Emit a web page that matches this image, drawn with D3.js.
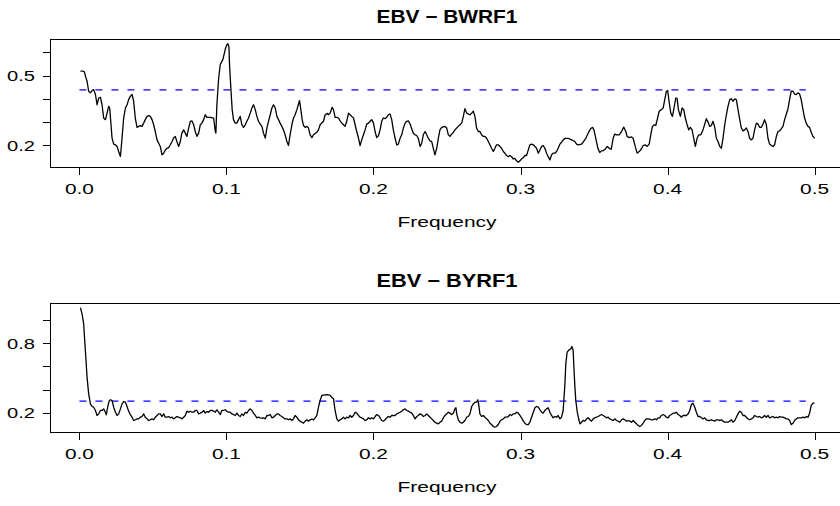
<!DOCTYPE html>
<html><head><meta charset="utf-8">
<script src="https://cdn.jsdelivr.net/npm/d3@7"></script>
<style>body{margin:0;background:#fff}svg{display:block}</style>
</head><body>
<script>
// ---------------- DATA ----------------
const titles = ["EBV \u2212 BWRF1", "EBV \u2212 BYRF1"];
const xLabel = "Frequency";
const xLimits = [0, 0.5];
const xTicks = [0, 0.1, 0.2, 0.3, 0.4, 0.5];
const xTickLabels = ["0.0", "0.1", "0.2", "0.3", "0.4", "0.5"];

const topYTicks = [0.2, 0.3, 0.4, 0.5, 0.6];
const topYTickLabels = ["0.2", "", "", "0.5", ""];
const bottomYTicks = [0.2, 0.4, 0.6, 0.8, 1.0];
const bottomYTickLabels = ["0.2", "", "", "0.8", ""];

const thresholdTop = 0.439;
const thresholdBottom = 0.300;
const thresholdSpan = [0, 0.494];

const freqTop = [0.0007,0.0025,0.0034,0.0041,0.0052,0.0063,0.0075,0.0086,0.0097,0.0109,0.0120,0.0131,0.0143,0.0154,0.0165,0.0177,0.0188,0.0199,0.0206,0.0215,0.0222,0.0233,0.0245,0.0256,0.0267,0.0279,0.0290,0.0301,0.0313,0.0324,0.0335,0.0346,0.0358,0.0369,0.0380,0.0392,0.0403,0.0414,0.0426,0.0437,0.0448,0.0460,0.0471,0.0482,0.0494,0.0505,0.0516,0.0528,0.0539,0.0550,0.0562,0.0573,0.0584,0.0596,0.0607,0.0618,0.0630,0.0641,0.0652,0.0663,0.0675,0.0686,0.0697,0.0709,0.0720,0.0731,0.0743,0.0754,0.0765,0.0777,0.0788,0.0799,0.0811,0.0822,0.0833,0.0845,0.0856,0.0867,0.0890,0.0913,0.0924,0.0928,0.0935,0.0947,0.0958,0.0976,0.0992,0.1003,0.1010,0.1017,0.1021,0.1030,0.1039,0.1048,0.1060,0.1071,0.1082,0.1094,0.1105,0.1116,0.1128,0.1139,0.1150,0.1162,0.1173,0.1184,0.1196,0.1207,0.1218,0.1230,0.1241,0.1252,0.1264,0.1275,0.1286,0.1298,0.1309,0.1320,0.1332,0.1343,0.1354,0.1365,0.1377,0.1388,0.1399,0.1411,0.1422,0.1433,0.1445,0.1456,0.1467,0.1479,0.1497,0.1506,0.1515,0.1524,0.1535,0.1547,0.1558,0.1569,0.1581,0.1592,0.1615,0.1626,0.1637,0.1660,0.1671,0.1687,
0.1694,0.1705,0.1719,0.1728,0.1739,0.1751,0.1762,0.1773,0.1785,0.1796,0.1807,0.1818,0.1830,0.1841,0.1852,0.1864,0.1875,0.1886,0.1898,0.1909,0.1920,0.1932,0.1943,0.1954,0.1966,0.1977,0.1988,0.2000,0.2011,0.2022,0.2034,0.2045,0.2056,0.2067,0.2079,0.2090,0.2101,0.2113,0.2124,0.2135,0.2147,0.2158,0.2169,0.2181,0.2192,0.2203,0.2215,0.2226,0.2237,0.2249,0.2260,0.2271,0.2283,0.2294,0.2305,0.2317,0.2328,0.2339,0.2351,0.2362,0.2373,0.2385,0.2396,0.2407,0.2418,0.2430,0.2441,0.2452,0.2464,0.2486,0.2498,0.2509,0.2520,0.2532,0.2543,0.2554,0.2566,0.2577,0.2588,0.2600,0.2611,0.2622,0.2634,0.2645,0.2656,0.2668,0.2679,0.2690,0.2701,0.2713,0.2724,0.2735,0.2747,0.2758,0.2769,0.2781,0.2792,0.2803,0.2815,0.2826,0.2837,0.2849,0.2860,0.2871,0.2883,0.2894,0.2905,0.2917,0.2928,0.2939,0.2951,0.2962,0.2973,0.2985,0.2996,0.3007,0.3019,0.3030,0.3041,0.3053,0.3064,0.3075,0.3087,0.3098,0.3109,0.3121,0.3132,0.3143,0.3154,0.3166,0.3177,0.3188,0.3200,0.3211,0.3222,0.3234,0.3245,0.3256,0.3268,0.3279,0.3290,0.3302,0.3324,0.3347,0.3370,0.3381,0.3392,
0.3415,0.3426,0.3444,0.3460,0.3476,0.3490,0.3499,0.3512,0.3526,0.3539,0.3550,0.3562,0.3576,0.3590,0.3603,0.3617,0.3630,0.3641,0.3653,0.3671,0.3687,0.3702,0.3716,0.3725,0.3739,0.3755,0.3766,0.3780,0.3793,0.3807,0.3821,0.3834,0.3848,0.3861,0.3875,0.3886,0.3897,0.3911,0.3920,0.3931,0.3943,0.3958,0.3970,0.3981,0.3992,0.4001,0.4010,0.4022,0.4033,0.4044,0.4056,0.4065,0.4074,0.4087,0.4099,0.4110,0.4121,0.4133,0.4144,0.4155,0.4167,0.4178,0.4189,0.4201,0.4212,0.4226,0.4241,0.4253,0.4264,0.4275,0.4287,0.4298,0.4309,0.4321,0.4332,0.4343,0.4355,0.4366,0.4377,0.4389,0.4400,0.4411,0.4423,0.4434,0.4445,0.4457,0.4468,0.4479,0.4491,0.4502,0.4513,0.4524,0.4536,0.4547,0.4558,0.4570,0.4581,0.4592,0.4604,0.4615,0.4626,0.4638,0.4649,0.4660,0.4672,0.4683,0.4694,0.4706,0.4717,0.4728,0.4740,0.4751,0.4762,0.4774,0.4785,0.4796,0.4808,0.4819,0.4830,0.4841,0.4853,0.4864,0.4875,0.4887,0.4898,0.4909,0.4921,0.4932,0.4943,0.4955,0.4966,0.4977,0.4989,0.5000];

const specTop = [0.519,0.519,0.516,0.498,0.476,0.433,0.426,0.436,0.440,0.419,0.375,0.404,0.407,0.375,0.318,0.311,0.339,0.368,0.361,0.289,0.232,0.206,0.203,0.196,0.174,0.153,0.232,0.318,0.361,0.375,0.397,0.411,0.419,0.390,0.318,0.278,0.282,0.285,0.282,0.296,0.311,0.325,0.329,0.325,0.311,0.289,0.260,0.224,0.210,0.196,0.160,0.167,0.181,0.188,0.191,0.203,0.217,0.232,0.239,0.217,0.196,0.217,0.253,0.267,0.253,0.239,0.275,0.304,0.306,0.289,0.260,0.239,0.253,0.289,0.296,0.311,0.332,0.321,0.321,0.318,0.260,0.253,0.375,0.490,0.548,0.570,0.613,0.634,0.637,0.623,0.548,0.447,0.354,0.311,0.296,0.296,0.311,0.325,0.289,0.278,0.289,0.304,0.318,0.339,0.361,0.375,0.354,0.325,0.304,0.292,0.282,0.253,0.232,0.275,0.304,0.332,0.361,0.375,0.361,0.325,0.311,0.296,0.282,0.267,0.246,0.217,0.200,0.246,0.289,0.318,0.332,0.354,0.393,0.354,0.311,0.286,0.278,0.282,0.275,0.246,0.234,0.246,0.257,0.267,0.289,0.304,0.332,0.338,
0.332,0.339,0.364,0.354,0.321,0.321,0.318,0.306,0.296,0.289,0.282,0.304,0.339,0.332,0.325,0.318,0.289,0.260,0.232,0.200,0.224,0.246,0.267,0.292,0.296,0.304,0.311,0.296,0.260,0.234,0.243,0.267,0.304,0.318,0.315,0.321,0.332,0.335,0.311,0.267,0.231,0.203,0.206,0.231,0.246,0.275,0.296,0.304,0.306,0.292,0.272,0.253,0.246,0.243,0.231,0.196,0.210,0.246,0.260,0.246,0.231,0.220,0.217,0.188,0.160,0.188,0.231,0.267,0.278,0.282,0.275,0.246,0.239,0.249,0.256,0.267,0.275,0.282,0.289,0.296,0.325,0.358,0.339,0.335,0.332,0.339,0.347,0.325,0.275,0.260,0.260,0.246,0.239,0.239,0.231,0.217,0.203,0.188,0.174,0.188,0.203,0.203,0.196,0.188,0.174,0.167,0.157,0.152,0.157,0.152,0.142,0.145,0.134,0.128,0.134,0.142,0.148,0.157,0.157,0.181,0.203,0.206,0.203,0.196,0.188,0.167,0.181,0.196,0.200,0.188,0.167,0.152,0.138,0.160,0.167,0.167,0.174,0.188,0.206,0.214,0.224,0.231,0.231,0.224,0.217,0.206,0.203,
0.206,0.214,0.231,0.253,0.272,0.278,0.267,0.231,0.188,0.170,0.177,0.178,0.184,0.196,0.188,0.184,0.231,0.249,0.246,0.246,0.260,0.279,0.260,0.239,0.234,0.237,0.231,0.196,0.167,0.174,0.185,0.200,0.203,0.196,0.206,0.246,0.282,0.289,0.286,0.314,0.347,0.354,0.361,0.397,0.433,0.436,0.390,0.339,0.325,0.361,0.404,0.401,0.354,0.325,0.361,0.354,0.318,0.289,0.267,0.278,0.267,0.231,0.196,0.231,0.246,0.246,0.267,0.292,0.315,0.301,0.282,0.286,0.304,0.278,0.231,0.217,0.196,0.188,0.231,0.289,0.332,0.368,0.397,0.401,0.390,0.400,0.397,0.354,0.311,0.275,0.263,0.267,0.275,0.260,0.231,0.224,0.231,0.267,0.296,0.292,0.278,0.278,0.292,0.311,0.289,0.231,0.206,0.200,0.196,0.203,0.239,0.260,0.263,0.272,0.282,0.311,0.335,0.358,0.397,0.433,0.433,0.421,0.419,0.426,0.421,0.397,0.354,0.318,0.296,0.282,0.278,0.257,0.239,0.231];

const freqBottom = [0.0007,0.0018,0.0029,0.0036,0.0045,0.0052,0.0063,0.0075,0.0086,0.0097,0.0109,0.0120,0.0131,0.0143,0.0154,0.0165,0.0177,0.0183,0.0192,0.0202,0.0211,0.0222,0.0233,0.0245,0.0256,0.0267,0.0279,0.0290,0.0301,0.0313,0.0324,0.0335,0.0346,0.0358,0.0369,0.0380,0.0392,0.0403,0.0414,0.0426,0.0437,0.0448,0.0460,0.0471,0.0482,0.0494,0.0505,0.0516,0.0528,0.0539,0.0550,0.0562,0.0573,0.0584,0.0596,0.0607,0.0618,0.0630,0.0641,0.0652,0.0663,0.0675,0.0686,0.0697,0.0709,0.0720,0.0731,0.0743,0.0754,0.0765,0.0777,0.0788,0.0799,0.0811,0.0822,0.0833,0.0845,0.0856,0.0867,0.0879,0.0890,0.0901,0.0913,0.0924,0.0935,0.0947,0.0958,0.0969,0.0981,0.0992,0.1003,0.1014,0.1026,0.1037,0.1048,0.1060,0.1071,0.1082,0.1094,0.1105,0.1116,0.1128,0.1139,0.1150,0.1162,0.1173,0.1184,0.1196,0.1207,0.1218,0.1230,0.1241,0.1252,0.1264,0.1275,0.1286,0.1298,0.1309,0.1320,0.1332,0.1343,0.1354,0.1365,0.1377,0.1388,0.1399,0.1411,0.1422,0.1433,0.1445,0.1456,0.1467,0.1479,0.1490,0.1501,0.1513,0.1524,0.1535,0.1547,0.1558,0.1569,0.1581,0.1592,0.1603,0.1615,0.1626,0.1637,0.1649,
0.1671,0.1683,0.1694,0.1705,0.1716,0.1728,0.1739,0.1751,0.1762,0.1773,0.1785,0.1796,0.1807,0.1818,0.1830,0.1841,0.1852,0.1864,0.1875,0.1886,0.1898,0.1909,0.1920,0.1932,0.1943,0.1954,0.1966,0.1977,0.1988,0.2000,0.2011,0.2022,0.2034,0.2045,0.2056,0.2067,0.2079,0.2090,0.2101,0.2113,0.2124,0.2135,0.2147,0.2158,0.2169,0.2181,0.2192,0.2203,0.2215,0.2226,0.2237,0.2249,0.2260,0.2271,0.2283,0.2294,0.2305,0.2317,0.2328,0.2339,0.2351,0.2362,0.2373,0.2385,0.2396,0.2407,0.2418,0.2430,0.2441,0.2452,0.2464,0.2475,0.2486,0.2498,0.2509,0.2520,0.2532,0.2543,0.2554,0.2561,0.2566,0.2577,0.2588,0.2600,0.2611,0.2622,0.2634,0.2645,0.2656,0.2668,0.2679,0.2690,0.2701,0.2710,0.2715,0.2724,0.2735,0.2747,0.2758,0.2769,0.2781,0.2792,0.2803,0.2815,0.2826,0.2837,0.2849,0.2860,0.2871,0.2883,0.2894,0.2905,0.2917,0.2928,0.2939,0.2951,0.2962,0.2973,0.2985,0.2996,0.3007,0.3019,0.3030,0.3041,0.3053,0.3064,0.3075,0.3087,0.3098,0.3109,0.3121,0.3132,0.3143,0.3154,0.3166,0.3177,0.3188,0.3200,0.3211,0.3222,0.3234,0.3245,0.3256,0.3268,0.3279,0.3290,0.3302,0.3308,0.3317,0.3331,0.3342,0.3349,0.3358,
0.3363,0.3370,0.3376,0.3386,0.3397,0.3404,0.3415,0.3426,0.3438,0.3449,0.3460,0.3472,0.3483,0.3494,0.3505,0.3517,0.3528,0.3539,0.3551,0.3562,0.3573,0.3585,0.3596,0.3607,0.3619,0.3630,0.3641,0.3653,0.3664,0.3675,0.3687,0.3698,0.3709,0.3721,0.3732,0.3743,0.3755,0.3766,0.3777,0.3789,0.3800,0.3811,0.3823,0.3834,0.3845,0.3857,0.3868,0.3879,0.3891,0.3902,0.3913,0.3925,0.3936,0.3947,0.3958,0.3970,0.3981,0.3992,0.4004,0.4015,0.4026,0.4038,0.4049,0.4060,0.4072,0.4083,0.4094,0.4106,0.4117,0.4128,0.4140,0.4151,0.4162,0.4173,0.4185,0.4196,0.4207,0.4219,0.4230,0.4241,0.4253,0.4264,0.4275,0.4287,0.4298,0.4309,0.4321,0.4332,0.4343,0.4355,0.4366,0.4377,0.4389,0.4400,0.4411,0.4423,0.4434,0.4445,0.4457,0.4468,0.4479,0.4491,0.4502,0.4513,0.4524,0.4536,0.4547,0.4558,0.4570,0.4581,0.4592,0.4604,0.4615,0.4626,0.4638,0.4649,0.4660,0.4672,0.4683,0.4694,0.4706,0.4717,0.4728,0.4740,0.4751,0.4762,0.4774,0.4785,0.4796,0.4808,0.4819,0.4830,0.4841,0.4853,0.4864,0.4875,0.4887,0.4898,0.4909,0.4921,0.4932,0.4943,0.4955,0.4966,0.4977,0.4989,0.5000];

const specBottom = [1.103,1.051,0.965,0.822,0.650,0.507,0.363,0.277,0.254,0.248,0.220,0.177,0.191,0.220,0.220,0.234,0.205,0.183,0.248,0.300,0.312,0.306,0.248,0.205,0.177,0.191,0.234,0.277,0.297,0.291,0.254,0.214,0.185,0.162,0.134,0.140,0.148,0.148,0.162,0.168,0.191,0.162,0.148,0.134,0.140,0.148,0.140,0.162,0.177,0.191,0.191,0.168,0.191,0.162,0.162,0.168,0.157,0.162,0.148,0.157,0.168,0.162,0.157,0.148,0.162,0.177,0.214,0.205,0.214,0.205,0.205,0.220,0.220,0.191,0.197,0.205,0.220,0.197,0.211,0.205,0.220,0.220,0.214,0.205,0.226,0.205,0.185,0.220,0.220,0.226,0.214,0.205,0.205,0.191,0.185,0.177,0.197,0.177,0.168,0.191,0.177,0.205,0.197,0.220,0.234,0.220,0.197,0.177,0.157,0.162,0.157,0.154,0.157,0.148,0.177,0.177,0.185,0.157,0.162,0.177,0.191,0.191,0.177,0.168,0.157,0.148,0.148,0.140,0.148,0.134,0.148,0.177,0.162,0.140,0.128,0.119,0.111,0.128,0.140,0.128,0.140,0.145,0.140,0.157,0.177,0.248,0.306,0.349,
0.355,0.357,0.355,0.349,0.334,0.320,0.220,0.148,0.128,0.140,0.148,0.162,0.148,0.162,0.157,0.177,0.162,0.177,0.205,0.197,0.177,0.162,0.157,0.148,0.134,0.140,0.157,0.148,0.157,0.148,0.168,0.185,0.177,0.157,0.134,0.128,0.140,0.157,0.168,0.162,0.177,0.177,0.177,0.191,0.197,0.205,0.214,0.226,0.234,0.220,0.214,0.205,0.197,0.177,0.148,0.168,0.177,0.191,0.185,0.168,0.177,0.191,0.177,0.162,0.148,0.134,0.119,0.111,0.105,0.119,0.128,0.157,0.177,0.191,0.205,0.197,0.185,0.197,0.234,0.243,0.191,0.140,0.119,0.111,0.119,0.134,0.162,0.168,0.191,0.254,0.277,0.291,0.291,0.312,0.277,0.191,0.168,0.177,0.162,0.148,0.134,0.111,0.099,0.082,0.076,0.082,0.099,0.128,0.140,0.148,0.162,0.162,0.168,0.185,0.177,0.191,0.191,0.205,0.197,0.177,0.157,0.128,0.111,0.099,0.099,0.119,0.162,0.205,0.243,0.254,0.248,0.226,0.205,0.197,0.220,0.234,0.243,0.205,0.177,0.157,0.168,0.162,0.177,0.148,0.162,0.220,0.449,0.621,0.722,0.742,0.750,0.770,0.736,
0.592,0.420,0.306,0.205,0.140,0.105,0.119,0.134,0.128,0.148,0.157,0.140,0.128,0.148,0.157,0.162,0.168,0.177,0.185,0.177,0.168,0.157,0.162,0.148,0.140,0.134,0.148,0.134,0.128,0.119,0.140,0.148,0.140,0.128,0.134,0.128,0.119,0.134,0.119,0.105,0.091,0.082,0.091,0.111,0.134,0.148,0.148,0.145,0.140,0.140,0.148,0.140,0.157,0.157,0.177,0.185,0.177,0.162,0.157,0.177,0.185,0.197,0.197,0.205,0.185,0.177,0.162,0.177,0.177,0.177,0.191,0.220,0.271,0.283,0.248,0.205,0.168,0.168,0.157,0.148,0.157,0.140,0.134,0.134,0.140,0.134,0.128,0.140,0.140,0.134,0.140,0.128,0.119,0.119,0.119,0.128,0.140,0.119,0.134,0.162,0.191,0.214,0.205,0.177,0.177,0.162,0.148,0.140,0.148,0.157,0.177,0.168,0.162,0.168,0.157,0.162,0.177,0.162,0.177,0.157,0.162,0.168,0.157,0.162,0.157,0.168,0.162,0.162,0.157,0.148,0.148,0.134,0.099,0.111,0.134,0.148,0.157,0.157,0.157,0.162,0.157,0.168,0.162,0.197,0.263,0.283,0.283];

// ---------------- LAYOUT ----------------
const W = 840, H = 506;
const FONT = "'Liberation Sans', Arial, Helvetica, sans-serif";
const plotLeft = 50, plotRight = 844;
const panelDefs = [
  {title: titles[0], freq: freqTop, spec: specTop, thresh: thresholdTop,
   yTicks: topYTicks, yTickLabels: topYTickLabels, top: 39, bottom: 167},
  {title: titles[1], freq: freqBottom, spec: specBottom, thresh: thresholdBottom,
   yTicks: bottomYTicks, yTickLabels: bottomYTickLabels, top: 303, bottom: 432}
];

function pad(ext) { const r = ext[1] - ext[0]; return [ext[0] - 0.04 * r, ext[1] + 0.04 * r]; }

const svg = d3.select("body").append("svg").attr("width", W).attr("height", H)
  .style("font-family", FONT);

const x = d3.scaleLinear().domain(pad(xLimits)).range([plotLeft, plotRight]);

panelDefs.forEach(p => {
  if (p.freq.length !== p.spec.length) throw new Error("length mismatch " + p.freq.length + " vs " + p.spec.length);
  const data = p.freq.map((f, i) => ({f, v: p.spec[i]}));
  const y = d3.scaleLinear().domain(pad(d3.extent(p.spec))).range([p.bottom, p.top]);
  const g = svg.append("g");

  // box
  g.append("rect").attr("x", plotLeft + 0.5).attr("y", p.top + 0.5)
    .attr("width", plotRight - plotLeft).attr("height", p.bottom - p.top)
    .attr("fill", "none").attr("stroke", "#000").attr("stroke-width", 1);

  // y axis
  const ya = g.append("g");
  p.yTicks.forEach((t, i) => {
    const yy = Math.round(y(t)) + 0.5;
    ya.append("line").attr("x1", plotLeft - 7).attr("x2", plotLeft).attr("y1", yy).attr("y2", yy)
      .attr("stroke", "#000");
    if (p.yTickLabels[i]) {
      ya.append("text").attr("x", 35).attr("y", y(t) + 5.5).attr("text-anchor", "end")
        .attr("font-size", 15).attr("textLength", 28).attr("lengthAdjust", "spacingAndGlyphs")
        .text(p.yTickLabels[i]);
    }
  });

  // x axis
  const xa = g.append("g");
  xTicks.forEach((t, i) => {
    const xx = Math.round(x(t)) + 0.5;
    xa.append("line").attr("x1", xx).attr("x2", xx).attr("y1", p.bottom).attr("y2", p.bottom + 8)
      .attr("stroke", "#000");
    xa.append("text").attr("x", x(t)).attr("y", p.bottom + 26.5).attr("text-anchor", "middle")
      .attr("font-size", 15).attr("textLength", 29).attr("lengthAdjust", "spacingAndGlyphs")
      .text(xTickLabels[i]);
  });
  g.append("text").attr("x", (plotLeft + plotRight) / 2).attr("y", p.bottom + 60)
    .attr("text-anchor", "middle").attr("font-size", 15)
    .attr("textLength", 99).attr("lengthAdjust", "spacingAndGlyphs").text(xLabel);

  // title
  g.append("text").attr("x", (plotLeft + plotRight) / 2).attr("y", p.top - 16.5)
    .attr("text-anchor", "middle").attr("font-size", 18).attr("font-weight", "bold")
    .attr("textLength", 141).attr("lengthAdjust", "spacingAndGlyphs").text(p.title);

  // threshold
  g.append("line").attr("x1", x(thresholdSpan[0])).attr("x2", x(thresholdSpan[1]))
    .attr("y1", y(p.thresh)).attr("y2", y(p.thresh))
    .attr("stroke", "#0000ff").attr("stroke-width", 1.3).attr("stroke-dasharray", "7,9");

  // spectrum line
  g.append("path").datum(data)
    .attr("d", d3.line().x(d => x(d.f)).y(d => y(d.v)))
    .attr("fill", "none").attr("stroke", "#000").attr("stroke-width", 1.3)
    .attr("stroke-linejoin", "round");
});
</script>
</body></html>
